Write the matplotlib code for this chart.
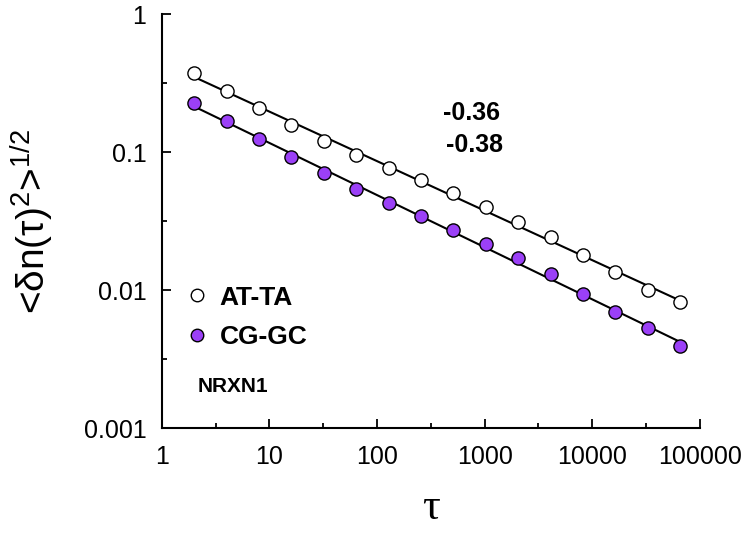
import numpy as np
import matplotlib
matplotlib.use('Agg')
import matplotlib.pyplot as plt
from matplotlib.ticker import LogLocator, FuncFormatter, NullFormatter

plt.rcParams['font.family'] = ['Liberation Sans', 'DejaVu Sans']
plt.rcParams['mathtext.fontset'] = 'custom'
plt.rcParams['mathtext.rm'] = 'Liberation Sans'
plt.rcParams['mathtext.it'] = 'Liberation Sans:italic'

# lag values tau
tau = [2, 4, 8, 16, 32, 64, 128, 256, 512, 1024, 2048, 4096, 8192, 16384, 32768, 65536]

# rms fluctuation
at_ta = [0.372, 0.278, 0.208, 0.156, 0.121, 0.0957, 0.0771, 0.0623, 0.0503, 0.0398,
         0.0312, 0.0244, 0.0179, 0.0135, 0.0100, 0.00818]
cg_gc = [0.226, 0.169, 0.125, 0.0926, 0.0702, 0.0540, 0.0430, 0.0345, 0.0274, 0.0216,
         0.0170, 0.0130, 0.00939, 0.00692, 0.00530, 0.00396]

series_labels = ['AT-TA', 'CG-GC']
slope_labels = ['-0.36', '-0.38']
gene = 'NRXN1'
purple = '#9B40F7'

fig = plt.figure(figsize=(7.47, 5.33), dpi=100)
ax = fig.add_axes([0.2165, 0.1964, 0.7205, 0.7773])

t = np.array(tau, dtype=float)
handles = []
for vals, face in zip([at_ta, cg_gc], ['white', purple]):
    # power law fit in log-log space
    k, b = np.polyfit(np.log10(t), np.log10(vals), 1)
    ax.plot(t, 10 ** (b + k * np.log10(t)), color='black', lw=1.5, zorder=2)
    h, = ax.plot(t, vals, 'o', ms=9.5, mfc=face, mec='black', mew=1.0, zorder=3)
    handles.append(h)

ax.set_xscale('log')
ax.set_yscale('log')
ax.set_xlim(1, 100000)
ax.set_ylim(0.001, 1)

for a in (ax.xaxis, ax.yaxis):
    a.set_major_locator(LogLocator(base=10, numticks=10))
    a.set_minor_locator(LogLocator(base=10, subs=[10 ** 0.5], numticks=10))
    a.set_major_formatter(FuncFormatter(lambda v, p: '{:g}'.format(v)))
    a.set_minor_formatter(NullFormatter())

ax.spines['top'].set_visible(False)
ax.spines['right'].set_visible(False)
ax.spines['left'].set_linewidth(1.5)
ax.spines['bottom'].set_linewidth(1.5)
ax.tick_params(which='major', direction='in', length=6.5, width=1.3, labelsize=18)
ax.tick_params(which='minor', direction='in', length=3.8, width=1.3)
ax.tick_params(axis='x', which='major', pad=12)
ax.tick_params(axis='y', which='major', pad=11)

ax.set_ylabel('<δn(τ)${}^{2}$>${}^{1/2}$', fontsize=28, labelpad=20)
ax.set_xlabel('τ', fontsize=32, family=['Liberation Serif', 'DejaVu Serif'], labelpad=14)

ax.text(0.5226, 0.761, slope_labels[0], transform=ax.transAxes, fontsize=18,
        fontweight='bold', va='center', ha='left')
ax.text(0.528, 0.684, slope_labels[1], transform=ax.transAxes, fontsize=18,
        fontweight='bold', va='center', ha='left')
ax.text(0.067, 0.100, gene, transform=ax.transAxes, fontsize=15,
        fontweight='bold', va='center', ha='left')

leg = ax.legend(handles, series_labels, loc='upper left', bbox_to_anchor=(0.027, 0.37),
                frameon=False, handlelength=0.8, handletextpad=0.45, labelspacing=0.6,
                prop={'weight': 'bold', 'size': 19}, borderaxespad=0)
for h in leg.legend_handles:
    h.set_markersize(9)

fig.savefig('out.png', dpi=100)
